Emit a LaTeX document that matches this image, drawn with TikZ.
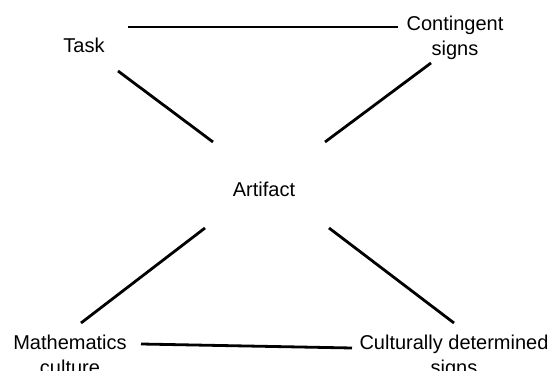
\documentclass[tikz,border=0pt]{standalone}
\usepackage{fontspec}
\setmainfont{Liberation Sans}
\begin{document}
\begin{tikzpicture}[x=1pt,y=-1pt,
  lbl/.style={inner sep=0pt, align=center, font=\fontsize{20}{24.5}\selectfont},
  link/.style={line width=2.8pt, black}]
\useasboundingbox (0,0) rectangle (552,371);
\node[lbl] (task) at (84,45) {Task};
\node[lbl] (cont) at (455,38) {Contingent\\signs};
\node[lbl] (art) at (264,189) {Artifact};
\node[lbl] (math) at (70,355) {Mathematics\\culture};
\node[lbl] (cult) at (454,357) {Culturally determined\\signs};
% connector end points
\coordinate (tc1) at (128,27);
\coordinate (tc2) at (398,27);
\coordinate (ta1) at (118,71);
\coordinate (ta2) at (213,142);
\coordinate (ca1) at (431,63);
\coordinate (ca2) at (325,142);
\coordinate (am1) at (205,228);
\coordinate (am2) at (81,323);
\coordinate (ac1) at (329,228);
\coordinate (ac2) at (454,323);
\coordinate (mc1) at (141,344);
\coordinate (mc2) at (352,348);
\draw[link] (tc1) -- (tc2);
\draw[link] (ta1) -- (ta2);
\draw[link] (ca1) -- (ca2);
\draw[link] (am1) -- (am2);
\draw[link] (ac1) -- (ac2);
\draw[link] (mc1) -- (mc2);
\end{tikzpicture}
\end{document}
